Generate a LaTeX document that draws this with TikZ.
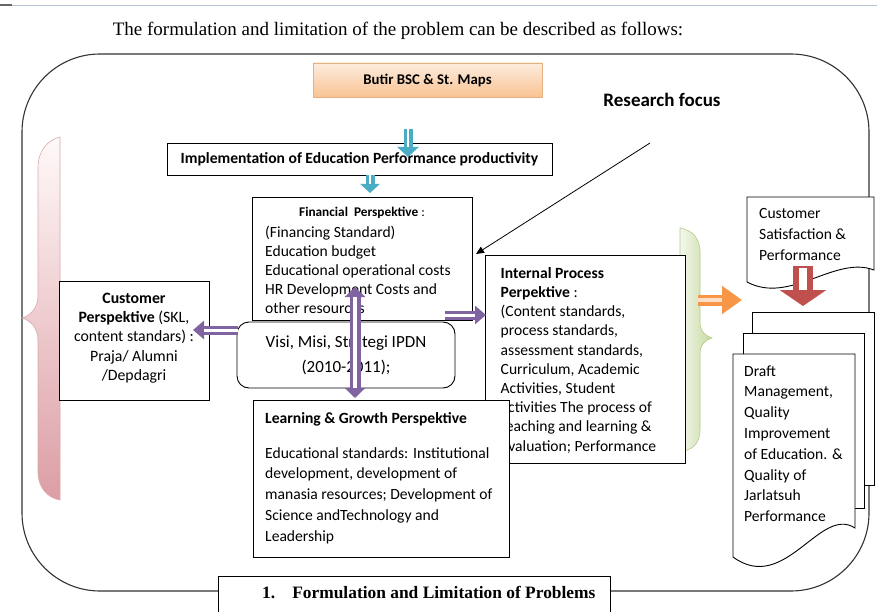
\documentclass[tikz,border=0pt]{standalone}
\usepackage{fontspec}
\setmainfont{Carlito}
\newfontfamily\timesfont{Liberation Serif}
\usetikzlibrary{arrows.meta,calc}
\definecolor{purp}{HTML}{8064A2}
\definecolor{cyanb}{HTML}{4BACC6}
\definecolor{orng}{HTML}{F79646}
\definecolor{redb}{HTML}{C0504D}
\definecolor{rulec}{HTML}{B7C4D4}
\begin{document}
\begin{tikzpicture}[x=1pt,y=-1pt,
  box/.style={draw=black, line width=0.9pt, fill=white, inner sep=0pt},
  txt/.style={inner sep=0pt, anchor=north west, align=left, font=\fontsize{15.6}{19}\selectfont},
  parrow/.style={draw=purp, line width=9pt, -{Triangle[length=10pt,width=19pt]}},
  pinner/.style={draw=white, line width=3pt},
  carrow/.style={draw=cyanb, line width=9pt, -{Triangle[length=10pt,width=21pt]}},
  cinner/.style={draw=white, line width=2.6pt},
]
\useasboundingbox (0,0) rectangle (877,612);
\clip (0,0) rectangle (877,612);
\fill[white] (0,0) rectangle (877,612);

% top rule
\draw[rulec, line width=0.8pt] (0,5) -- (877,5);
\draw[black!60, line width=1.2pt] (0,5) -- (12,5);

% title
\node[font=\timesfont\fontsize{19}{21}\selectfont, inner sep=0pt, anchor=base] (title) at (398,36)
  {The formulation and limitation of the problem can be described as follows:};

% big frame
\draw[line width=1.1pt, black!80, rounded corners=78pt] (22,54) rectangle (869,591);

% pink brace
\path[shade, top color=white!90!pink, bottom color={rgb,255:red,220;green,158;blue,164}, draw={rgb,255:red,217;green,170;blue,175}, line width=0.6pt]
  (60,137) .. controls (48,140) and (38,150) .. (38,168) -- (38,296)
  .. controls (38,308) and (30,316) .. (22,318)
  .. controls (30,320) and (38,328) .. (38,340) -- (38,472)
  .. controls (38,488) and (48,498) .. (60,500) -- cycle;

% green brace
\path[shade, left color={rgb,255:red,244;green,248;blue,236}, right color={rgb,255:red,197;green,217;blue,160}, draw={rgb,255:red,181;green,204;blue,142}, line width=0.6pt]
  (680,228) .. controls (692,230) and (700,238) .. (700,252) -- (700,322)
  .. controls (700,332) and (706,336) .. (712,338)
  .. controls (706,340) and (700,344) .. (700,354) -- (700,430)
  .. controls (700,444) and (692,450) .. (680,452) -- cycle;

% Butir box
\node[shade, top color={rgb,255:red,253;green,236;blue,222}, bottom color={rgb,255:red,249;green,195;blue,147},
  draw={rgb,255:red,230;green,176;blue,128}, line width=0.8pt, minimum width=229pt, minimum height=34pt,
  font=\bfseries\fontsize{14.8}{17}\selectfont] (butir) at (427.5,80) {Butir BSC \& St. Maps};

% Research focus
\node[font=\bfseries\fontsize{19}{21}\selectfont, inner sep=0pt] (rf) at (662,100) {Research focus};

% Implementation box
\node[box, minimum width=385pt, minimum height=32pt, font=\bfseries\fontsize{15.6}{18}\selectfont] (impl) at (359.5,159)
  {Implementation of Education Performance productivity};

% Financial box
\node[box, minimum width=220pt, minimum height=123pt] (fin) at (362,258.5) {};
\node[font=\bfseries\fontsize{13.3}{15}\selectfont, inner sep=0pt, anchor=base] (finhead) at (362,217)
  {Financial\ \ Perspektive\mdseries\ :};
\node[txt] (fintxt) at (265,223.7)
  {\strut(Financing Standard)\\Education budget\\Educational operational costs\\HR Development Costs and\\other resources};

% Customer box
\node[box, minimum width=150pt, minimum height=119pt] (cust) at (134,340.5) {};
\node[txt, anchor=north, align=center, font=\fontsize{15.8}{19.3}\selectfont] (custtxt) at (134,289.5)
  {\strut\textbf{Customer}\\\textbf{Perspektive} (SKL,\\content standars) :\\Praja/ Alumni\\/Depdagri};

% Internal process box
\node[box, minimum width=200pt, minimum height=208pt] (int) at (585,359) {};
\node[txt, font=\fontsize{15.6}{19.2}\selectfont] (inttxt) at (500.5,264.6)
  {\strut\textbf{Internal Process}\\\textbf{Perpektive} :\\(Content standards,\\process standards,\\assessment standards,\\Curriculum, Academic\\Activities, Student\\activities The process of\\teaching and learning \&\\evaluation; Performance};

% Learning box
\node[box, minimum width=256pt, minimum height=157pt] (learn) at (381,478.5) {};
\node[inner sep=0pt, anchor=base west, font=\bfseries\fontsize{15.6}{18}\selectfont] (lghead) at (265,423)
  {Learning \& Growth Perspektive};
\node[txt, font=\fontsize{15.6}{20.8}\selectfont] (lgtxt) at (265,443.4)
  {\strut Educational standards: Institutional\\development, development of\\manasia resources; Development of\\Science andTechnology and\\Leadership};

% Visi box
\node[box, rounded corners=12pt, minimum width=218pt, minimum height=66pt] (visi) at (346,355) {};
\node[txt, anchor=north, align=center, font=\fontsize{17}{25}\selectfont] (visitxt) at (346,329.5)
  {\strut Visi, Misi, Strategi IPDN\\(2010-2011);};

% Customer satisfaction document
\draw[line width=0.9pt, fill=white] (747,197) -- (874,197) -- (874,270)
  .. controls (835,255) and (790,305) .. (747,282) -- cycle;
\node[txt, font=\fontsize{15.6}{21}\selectfont] (cstxt) at (759,203.3)
  {\strut Customer\\Satisfaction \&\\Performance};

% multi document stack
\draw[line width=0.9pt, fill=white] (752,312) rectangle (874,485);
\draw[line width=0.9pt, fill=white] (743,333) rectangle (864,508);
\draw[line width=0.9pt, fill=white] (733,354) -- (855,354) -- (855,528)
  .. controls (820,505) and (785,595) .. (733,557) -- cycle;
\node[txt, font=\fontsize{15.6}{20.8}\selectfont] (drafttxt) at (744,361.4)
  {\strut Draft\\Management,\\Quality\\Improvement\\of Education. \&\\Quality of\\Jarlatsuh\\Performance};

% bottom box
\node[box, minimum width=392pt, minimum height=54pt] (bottom) at (414,603) {};
\node[anchor=base west, inner sep=0pt, font=\timesfont\bfseries\fontsize{17.4}{20}\selectfont] (bottomtxt) at (262,598)
  {1.\hspace{17pt}Formulation and Limitation of Problems};

% ---- arrows ----
\coordinate (c1a) at (408,129);
\coordinate (c1b) at (408,157);
\coordinate (c2a) at (370,175);
\coordinate (c2b) at (370,193);
\draw[carrow] (c1a) -- (c1b);
\draw[cinner] (c1a) -- ($(c1b)+(0,-10)$);
\draw[carrow, -{Triangle[length=9pt,width=19pt]}] (c2a) -- (c2b);
\draw[cinner] (c2a) -- ($(c2b)+(0,-9)$);

% purple arrows
\coordinate (pu) at (355,287);
\coordinate (pd) at (355,398);
\coordinate (pl1) at (238,330);
\coordinate (pl2) at (193,330);
\coordinate (pr1) at (445,315);
\coordinate (pr2) at (486,315);
\draw[parrow, line width=11pt, {Triangle[length=10pt,width=20pt]}-{Triangle[length=10pt,width=20pt]}] (pu) -- (pd);
\draw[pinner, line width=3.5pt] ($(pu)+(0,10)$) -- ($(pd)+(0,-10)$);
\draw[parrow, -{Triangle[length=11pt,width=18pt]}] (pl1) -- (pl2);
\draw[pinner] (pl1) -- ($(pl2)+(11,0)$);
\draw[parrow, -{Triangle[length=11pt,width=18pt]}] (pr1) -- (pr2);
\draw[pinner] (pr1) -- ($(pr2)+(-11,0)$);

% orange arrow
\coordinate (o1) at (698,300);
\coordinate (o2) at (742,300);
\draw[draw=orng, line width=11pt, -{Triangle[length=20pt,width=27pt]}] (o1) -- (o2);
\draw[draw=orng!30, line width=3.5pt] (o1) -- ($(o2)+(-20,0)$);

% red arrow
\coordinate (r1) at (803,266);
\coordinate (r2) at (803,306);
\draw[draw=redb, line width=20pt, -{Triangle[length=16pt,width=46pt]}] (r1) -- (r2);
\draw[draw=white, line width=8pt] ($(r1)+(0,2)$) -- ($(r2)+(0,-16)$);

% research focus pointer
\coordinate (rfa) at (650,143);
\coordinate (rfb) at (476,254);
\draw[line width=0.8pt, -{Triangle[length=8pt,width=7pt]}] (rfa) -- (rfb);

\end{tikzpicture}
\end{document}
